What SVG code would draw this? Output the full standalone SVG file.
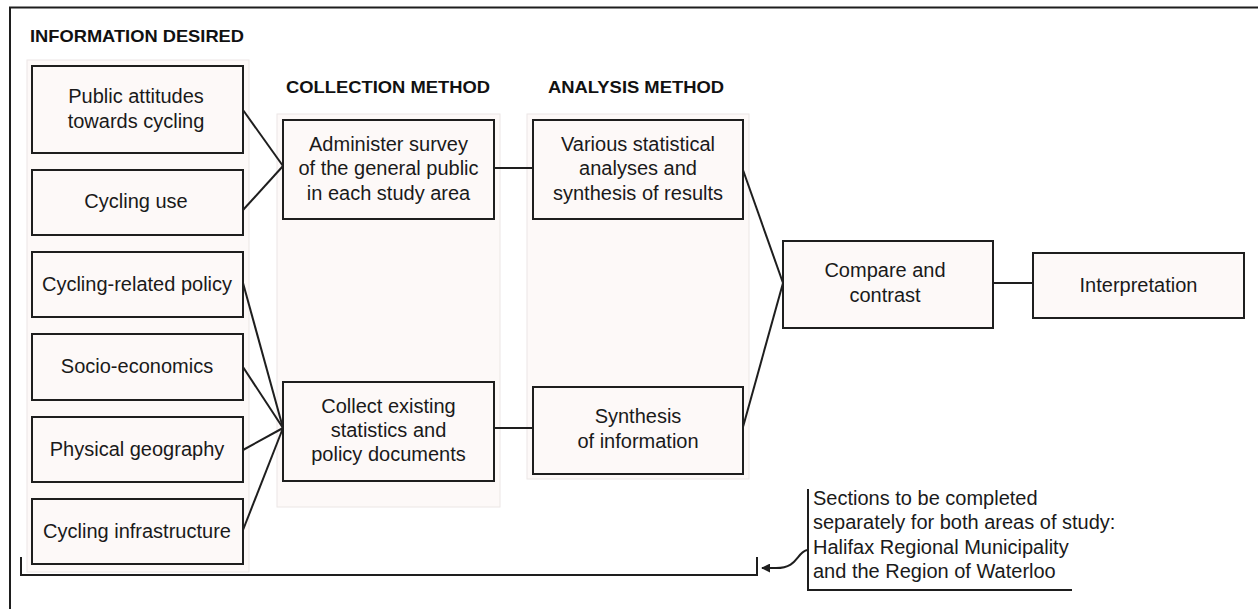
<svg xmlns="http://www.w3.org/2000/svg" width="1258" height="609" viewBox="0 0 1258 609">
<defs>
<style>
.panel{fill:#fdf9f8;stroke:#ebe6e5;stroke-width:1}
.box{fill:#fdf9f8;stroke:#1e1e1e;stroke-width:2}
.t{font-family:"Liberation Sans",Arial,sans-serif;font-size:20px;fill:#1a1a1a;text-anchor:middle}
.a{font-family:"Liberation Sans",Arial,sans-serif;font-size:20px;fill:#1a1a1a}
.h{font-family:"Liberation Sans",Arial,sans-serif;font-size:16.5px;font-weight:bold;fill:#111}
.ln{stroke:#1e1e1e;stroke-width:2;fill:none}
</style>
<marker id="ah" viewBox="0 0 10 10" refX="9" refY="5" markerWidth="9" markerHeight="9" markerUnits="userSpaceOnUse" orient="auto">
<path d="M0,0 L10,5 L0,10 z" fill="#1e1e1e"/>
</marker>
</defs>
<rect width="1258" height="609" fill="#ffffff"/>
<path class="ln" d="M10 609 V7.5 H1258"/>
<g id="panels">
<rect class="panel" x="27" y="60" width="222" height="512"/>
<rect class="panel" x="277" y="114" width="223" height="393"/>
<rect class="panel" x="527" y="114" width="222" height="365"/>
</g>
<g id="headings">
<text class="h" x="30" y="41.5" textLength="214" lengthAdjust="spacingAndGlyphs">INFORMATION DESIRED</text>
<text class="h" x="286" y="93" textLength="204" lengthAdjust="spacingAndGlyphs">COLLECTION METHOD</text>
<text class="h" x="548" y="93" textLength="176" lengthAdjust="spacingAndGlyphs">ANALYSIS METHOD</text>
</g>
<g id="connectors">
<line class="ln" x1="243" y1="110" x2="283" y2="166"/>
<line class="ln" x1="243" y1="210" x2="283" y2="166"/>
<line class="ln" x1="243" y1="283" x2="283" y2="428"/>
<line class="ln" x1="243" y1="367" x2="283" y2="428"/>
<line class="ln" x1="243" y1="450" x2="283" y2="428"/>
<line class="ln" x1="243" y1="530" x2="283" y2="428"/>
<line class="ln" x1="494" y1="168" x2="533" y2="168"/>
<line class="ln" x1="494" y1="428" x2="533" y2="428"/>
<line class="ln" x1="743" y1="170" x2="783" y2="283"/>
<line class="ln" x1="743" y1="427" x2="783" y2="283"/>
<line class="ln" x1="993" y1="283" x2="1033" y2="283"/>
<path class="ln" d="M21 557 V575 H757 V557"/>
<path class="ln" d="M807 550 C 796 553, 798 568, 776 568 L 762 568" marker-end="url(#ah)"/>
<path class="ln" d="M808 489 V590 H1072"/>
</g>
<g id="n-public">
<rect class="box" x="32" y="66" width="211" height="87"/>
<text class="t" x="136" y="103">Public attitudes</text>
<text class="t" x="136" y="128">towards cycling</text>
</g>
<g id="n-use">
<rect class="box" x="32" y="170" width="211" height="65"/>
<text class="t" x="136" y="208">Cycling use</text>
</g>
<g id="n-policy">
<rect class="box" x="32" y="252" width="211" height="65"/>
<text class="t" x="137" y="291">Cycling-related policy</text>
</g>
<g id="n-socio">
<rect class="box" x="32" y="334" width="211" height="66"/>
<text class="t" x="137" y="373">Socio-economics</text>
</g>
<g id="n-physical">
<rect class="box" x="32" y="417" width="211" height="65"/>
<text class="t" x="137" y="456">Physical geography</text>
</g>
<g id="n-infra">
<rect class="box" x="32" y="499" width="211" height="65"/>
<text class="t" x="137" y="538">Cycling infrastructure</text>
</g>
<g id="n-survey">
<rect class="box" x="283" y="120" width="211" height="99"/>
<text class="t" x="388.5" y="151">Administer survey</text>
<text class="t" x="388.5" y="175">of the general public</text>
<text class="t" x="388.5" y="199.5">in each study area</text>
</g>
<g id="n-collect">
<rect class="box" x="283" y="382" width="211" height="99"/>
<text class="t" x="388.5" y="413">Collect existing</text>
<text class="t" x="388.5" y="437">statistics and</text>
<text class="t" x="388.5" y="461">policy documents</text>
</g>
<g id="n-stats">
<rect class="box" x="533" y="120" width="210" height="99"/>
<text class="t" x="638" y="151">Various statistical</text>
<text class="t" x="638" y="175">analyses and</text>
<text class="t" x="638" y="199.5">synthesis of results</text>
</g>
<g id="n-synth">
<rect class="box" x="533" y="387" width="210" height="87"/>
<text class="t" x="638" y="423">Synthesis</text>
<text class="t" x="638" y="447.5">of information</text>
</g>
<g id="n-compare">
<rect class="box" x="783" y="241" width="210" height="87"/>
<text class="t" x="885" y="277">Compare and</text>
<text class="t" x="885" y="302">contrast</text>
</g>
<g id="n-interp">
<rect class="box" x="1033" y="253" width="211" height="65"/>
<text class="t" x="1138.5" y="292">Interpretation</text>
</g>
<g id="annotation">
<text class="a" x="813" y="505">Sections to be completed</text>
<text class="a" x="813" y="529">separately for both areas of study:</text>
<text class="a" x="813" y="553.5">Halifax Regional Municipality</text>
<text class="a" x="813" y="578">and the Region of Waterloo</text>
</g>
</svg>
